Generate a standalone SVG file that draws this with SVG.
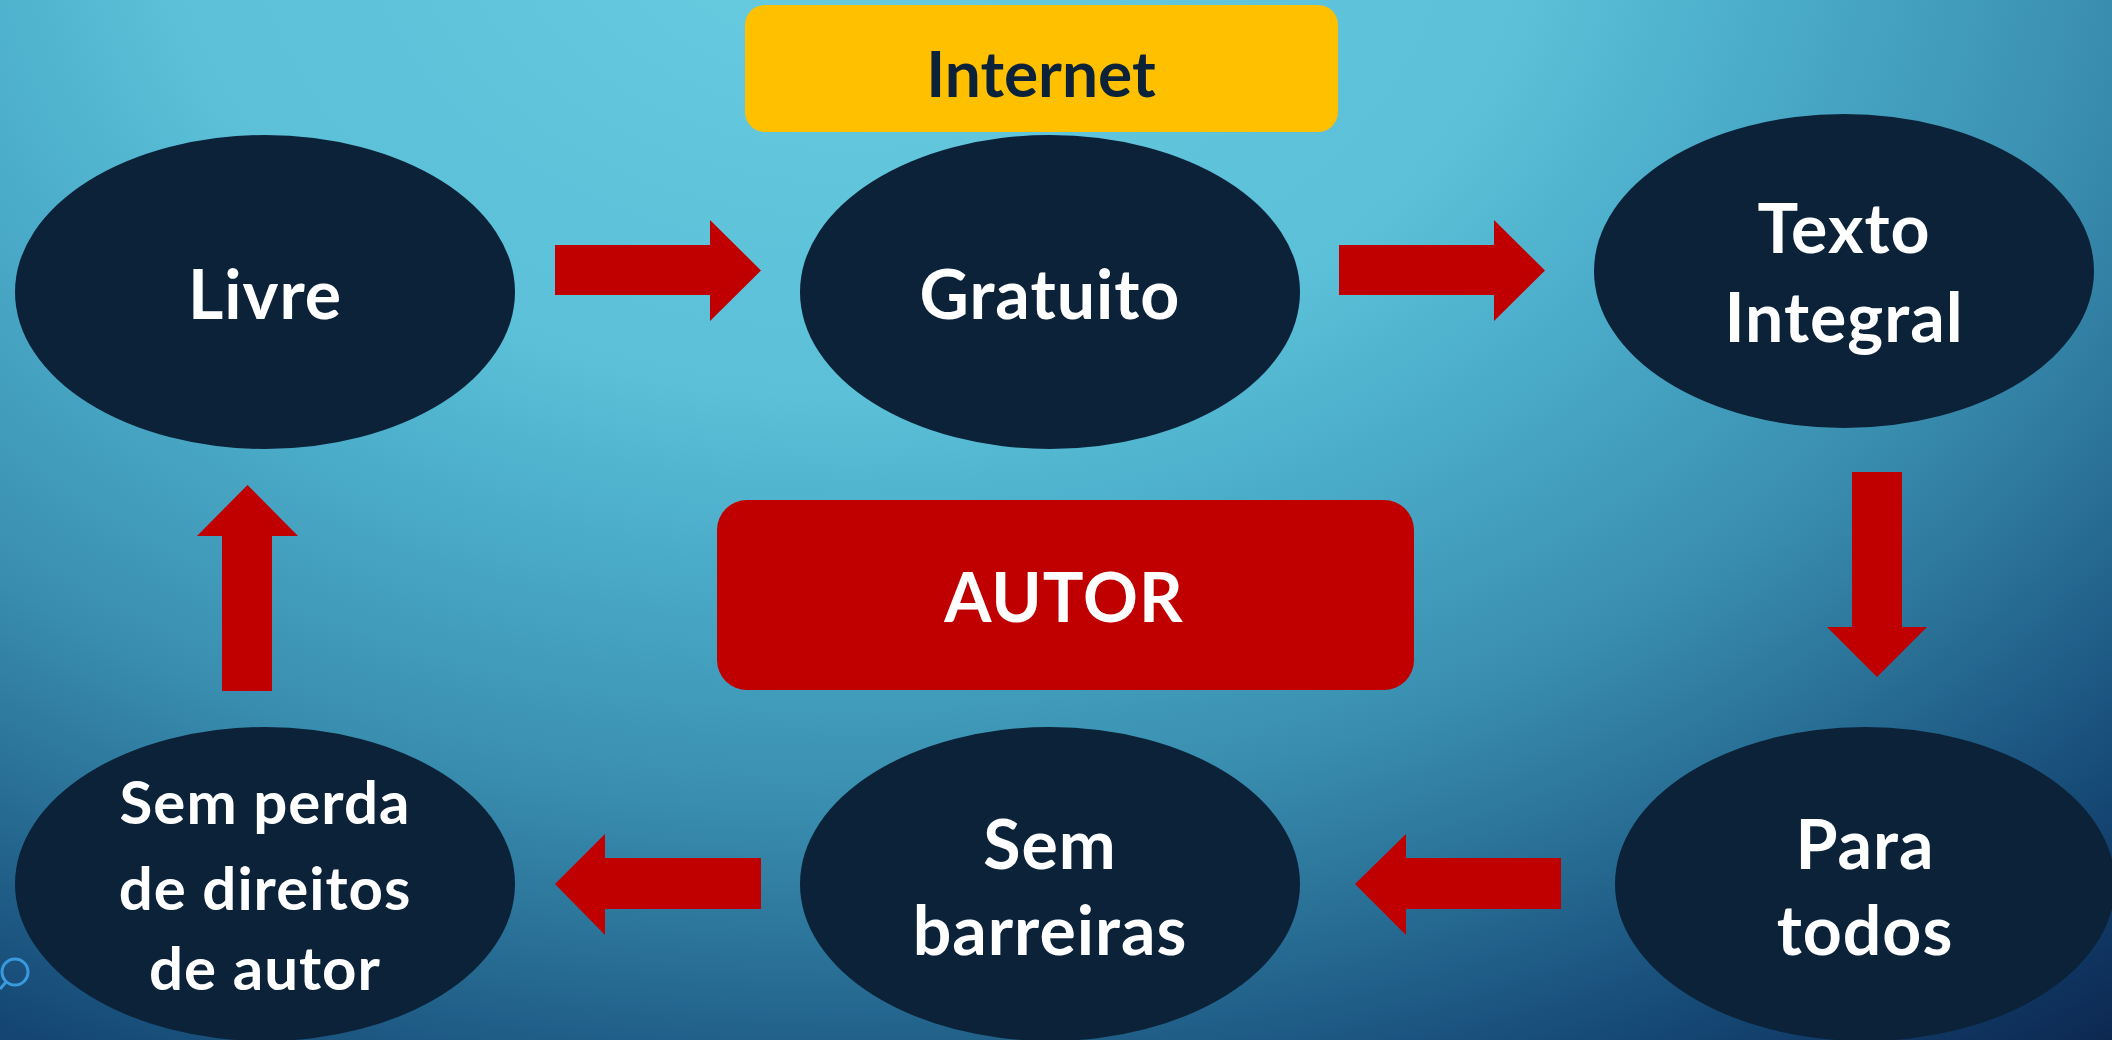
<svg xmlns="http://www.w3.org/2000/svg" width="2112" height="1040" viewBox="0 0 2112 1040">
<defs>
<radialGradient id="bg" gradientUnits="userSpaceOnUse" cx="850" cy="-100" r="1500" gradientTransform="translate(850 -100) scale(1.4 1) translate(-850 100)">
<stop offset="0" stop-color="#68CDE0"/>
<stop offset="0.33" stop-color="#5BC0D8"/>
<stop offset="0.45" stop-color="#4AABC8"/>
<stop offset="0.6" stop-color="#3A8FB0"/>
<stop offset="0.7" stop-color="#2B7399"/>
<stop offset="0.8" stop-color="#1B5580"/>
<stop offset="0.88" stop-color="#123E6B"/>
<stop offset="1" stop-color="#0A2048"/>
</radialGradient>
<style>
.node{fill:#0B2239}
.lbl{font-family:Lato,"Liberation Sans",sans-serif;font-weight:bold;font-size:68px;fill:#FFFFFF;text-anchor:middle;letter-spacing:1px}
.small{font-size:60px}
.arrow{fill:#C00000}
</style>
</defs>
<rect x="0" y="0" width="2112" height="1040" fill="url(#bg)"/>
<g id="decor" fill="none" stroke="#3A9AE0" stroke-width="3">
<circle cx="15" cy="972" r="13"/>
<line x1="6" y1="982" x2="0" y2="989"/>
</g>
<g id="connectors">
<polygon class="arrow" points="555,245 710,245 710,220 761,270.5 710,321 710,295 555,295"/>
<polygon class="arrow" points="1339,245 1494,245 1494,220 1545,270.5 1494,321 1494,295 1339,295"/>
<polygon class="arrow" points="1852,472 1902,472 1902,627 1927,627 1877,677 1827,627 1852,627"/>
<polygon class="arrow" points="1561,858 1406,858 1406,834 1355,884 1406,935 1406,909 1561,909"/>
<polygon class="arrow" points="761,858 605,858 605,834 555,884 605,935 605,909 761,909"/>
<polygon class="arrow" points="222,691 222,536 197,536 247.5,485 298,536 272,536 272,691"/>
</g>
<g id="internet">
<rect x="745" y="5" width="593" height="127" rx="20" fill="#FFC000"/>
<text class="lbl" x="1041" y="97" style="fill:#0B2239;font-size:64px;letter-spacing:0">Internet</text>
</g>
<g id="autor">
<rect x="717" y="500" width="697" height="190" rx="30" fill="#C00000"/>
<text class="lbl" x="1064" y="622">AUTOR</text>
</g>
<g id="livre">
<ellipse class="node" cx="265" cy="292" rx="250" ry="157"/>
<text class="lbl" x="265" y="319">Livre</text>
</g>
<g id="gratuito">
<ellipse class="node" cx="1050" cy="292" rx="250" ry="157"/>
<text class="lbl" x="1050" y="319">Gratuito</text>
</g>
<g id="texto-integral">
<ellipse class="node" cx="1844" cy="271" rx="250" ry="157"/>
<text class="lbl" x="1844" y="253">Texto</text>
<text class="lbl" x="1844" y="342">Integral</text>
</g>
<g id="para-todos">
<ellipse class="node" cx="1865" cy="884" rx="250" ry="157"/>
<text class="lbl" x="1865" y="869">Para</text>
<text class="lbl" x="1865" y="955">todos</text>
</g>
<g id="sem-barreiras">
<ellipse class="node" cx="1050" cy="884" rx="250" ry="157"/>
<text class="lbl" x="1050" y="869">Sem</text>
<text class="lbl" x="1050" y="955">barreiras</text>
</g>
<g id="sem-perda">
<ellipse class="node" cx="265" cy="884" rx="250" ry="157"/>
<text class="lbl small" x="265" y="824">Sem perda</text>
<text class="lbl small" x="265" y="910">de direitos</text>
<text class="lbl small" x="265" y="990">de autor</text>
</g>
</svg>
